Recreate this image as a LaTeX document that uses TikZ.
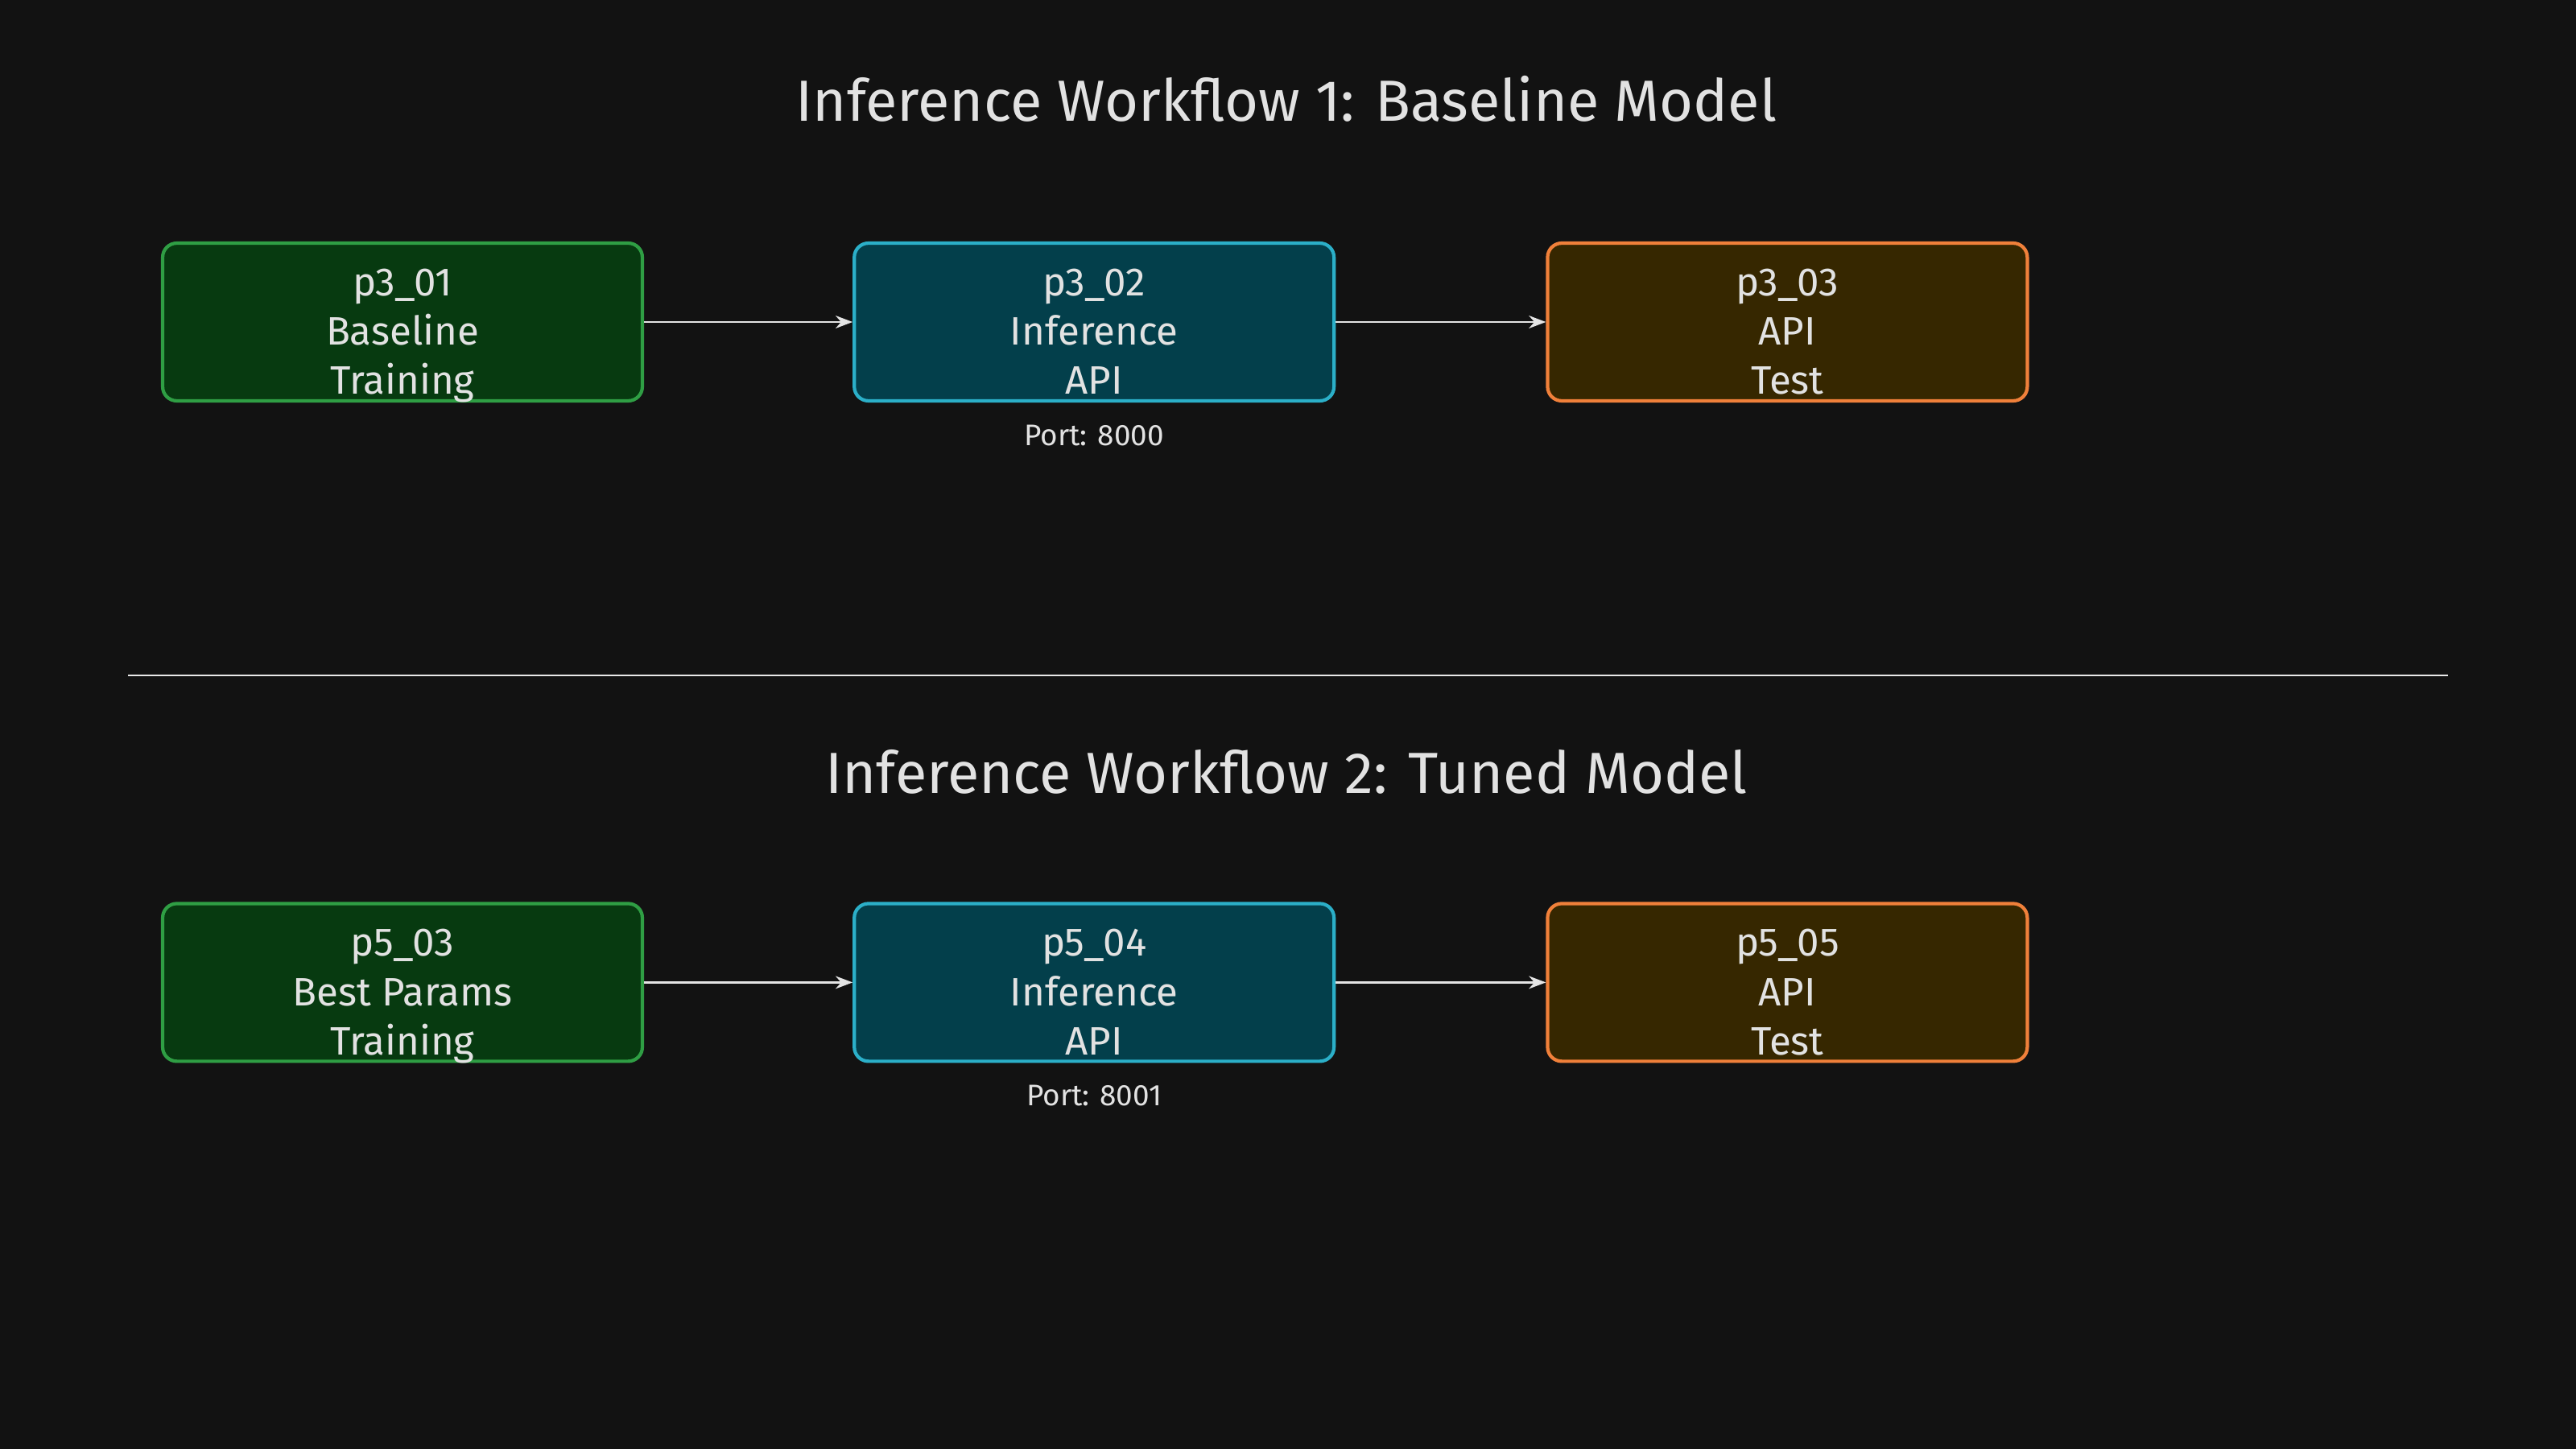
\documentclass[tikz,border=0pt]{standalone}
\usepackage{fontspec}
\setmainfont{Fira Sans}
\usetikzlibrary{arrows.meta}
\definecolor{bg}{HTML}{121212}
\definecolor{txt}{HTML}{E2E2E2}
\definecolor{gfill}{HTML}{073A10}\definecolor{gdraw}{HTML}{2F9E44}
\definecolor{tfill}{HTML}{033F4B}\definecolor{tdraw}{HTML}{2BAFC8}
\definecolor{ofill}{HTML}{362700}\definecolor{odraw}{HTML}{F0803A}
\newcommand{\myln}[1]{\strut#1}
\begin{document}
\begin{tikzpicture}[x=0.0204cm,y=-0.0204cm,
 box/.style={draw,line width=1.2pt,rounded corners=5pt,minimum width=292*0.0204cm,minimum height=96*0.0204cm,inner sep=0pt},
 btext/.style={label={[align=center,text=txt,font=\fontsize{14}{17.4}\selectfont,inner sep=0pt,yshift=-4.7pt]center:{#1}}},
 g/.style={box,fill=gfill,draw=gdraw},t/.style={box,fill=tfill,draw=tdraw},o/.style={box,fill=ofill,draw=odraw},
 arr/.style={draw=txt!90,line width=0.8pt,-{Stealth[length=6pt]}},
 ttl/.style={text=txt,font=\fontsize{20.5}{24}\selectfont},
 port/.style={text=txt,font=\fontsize{10.5}{12}\selectfont}]
\fill[bg] (0,0) rectangle (1568,882);
\node[ttl] (t1) at (783,60) {Inference Workflow 1: Baseline Model};
\node[ttl] (t2) at (783,470) {Inference Workflow 2: Tuned Model};
\coordinate (l1) at (78,411); \coordinate (l2) at (1490,411);
\draw[txt!80,line width=0.6pt] (l1)--(l2);
\node[g,btext={\myln{p3\_01}\\\myln{Baseline}\\\myln{Training}}] (a1) at (245,196) {};
\node[t,btext={\myln{p3\_02}\\\myln{Inference}\\\myln{API}}] (b1) at (666,196) {};
\node[o,btext={\myln{p3\_03}\\\myln{API}\\\myln{Test}}] (c1) at (1088,196) {};
\node[port] (p1) at (666,265) {Port: 8000};
\draw[arr] (a1)--(b1); \draw[arr] (b1)--(c1);
\node[g,btext={\myln{p5\_03}\\\myln{Best Params}\\\myln{Training}}] (a2) at (245,598) {};
\node[t,btext={\myln{p5\_04}\\\myln{Inference}\\\myln{API}}] (b2) at (666,598) {};
\node[o,btext={\myln{p5\_05}\\\myln{API}\\\myln{Test}}] (c2) at (1088,598) {};
\node[port] (p2) at (666,667) {Port: 8001};
\draw[arr] (a2)--(b2); \draw[arr] (b2)--(c2);
\end{tikzpicture}
\end{document}
